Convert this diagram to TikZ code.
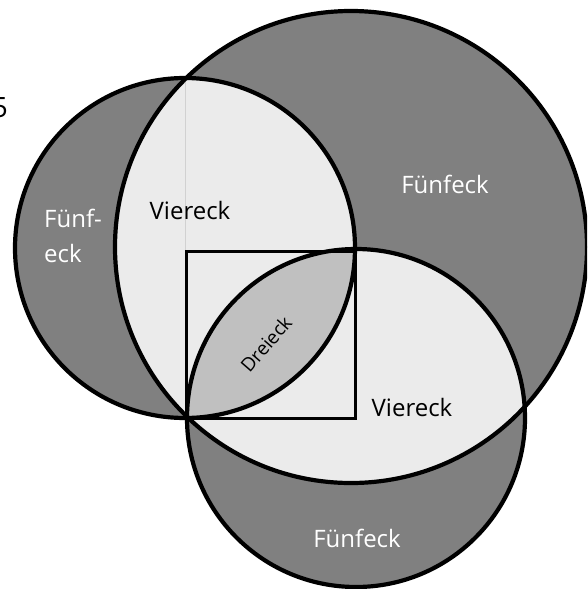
\documentclass[tikz,border=0pt]{standalone}
\usepackage{fontspec}
\setmainfont{Open Sans}
\definecolor{dk}{HTML}{808080}
\definecolor{lt}{HTML}{EBEBEB}
\definecolor{md}{HTML}{C0C0C0}
\begin{document}
\begin{tikzpicture}[x=1pt,y=-1pt,
  ring/.style={draw=black,line width=4.2pt},
  sqbox/.style={draw=black,line width=3pt},
  seam/.style={draw=black!18,line width=0.6pt},
  wlab/.style={text=white,font=\fontsize{24}{35}\selectfont,inner sep=0pt},
  blab/.style={text=black,font=\fontsize{24}{35}\selectfont,inner sep=0pt}]
\useasboundingbox (0,0) rectangle (587,589);
\clip (0,0) rectangle (587,589);
\coordinate (cL) at (185,248);
\coordinate (cB) at (356,418);
\coordinate (cT) at (351,247);
% base fills
\fill[dk] (cT) circle[radius=236pt];
\fill[dk] (cL) circle[radius=170pt];
\fill[dk] (cB) circle[radius=169pt];
% intersections with big circle
\begin{scope}
  \clip (cT) circle[radius=236pt];
  \fill[lt] (cL) circle[radius=170pt];
  \fill[lt] (cB) circle[radius=169pt];
\end{scope}
% lens
\begin{scope}
  \clip (cL) circle[radius=170pt];
  \fill[md] (cB) circle[radius=169pt];
\end{scope}
\draw[seam] (185,80) -- (185,251);
\draw[sqbox] (186,251) rectangle (355,418);
\draw[ring] (cT) circle[radius=236pt];
\draw[ring] (cL) circle[radius=170pt];
\draw[ring] (cB) circle[radius=169pt];
% labels
\node[blab,anchor=base] (v1) at (190,219) {Viereck};
\node[wlab,anchor=base west,align=left] (f1) at (44,262) {Fünf-\\eck};
\node[wlab,anchor=base] (f2) at (445,193) {Fünfeck};
\node[blab,anchor=base] (v2) at (412,416) {Viereck};
\node[wlab,anchor=base] (f3) at (357,547) {Fünfeck};
\node[blab,font=\fontsize{19}{23}\selectfont,rotate=49] (d) at (266,344) {Dreieck};
\node[blab,font=\fontsize{28}{34}\selectfont,anchor=base east] (five) at (8,117) {5};
\end{tikzpicture}
\end{document}
